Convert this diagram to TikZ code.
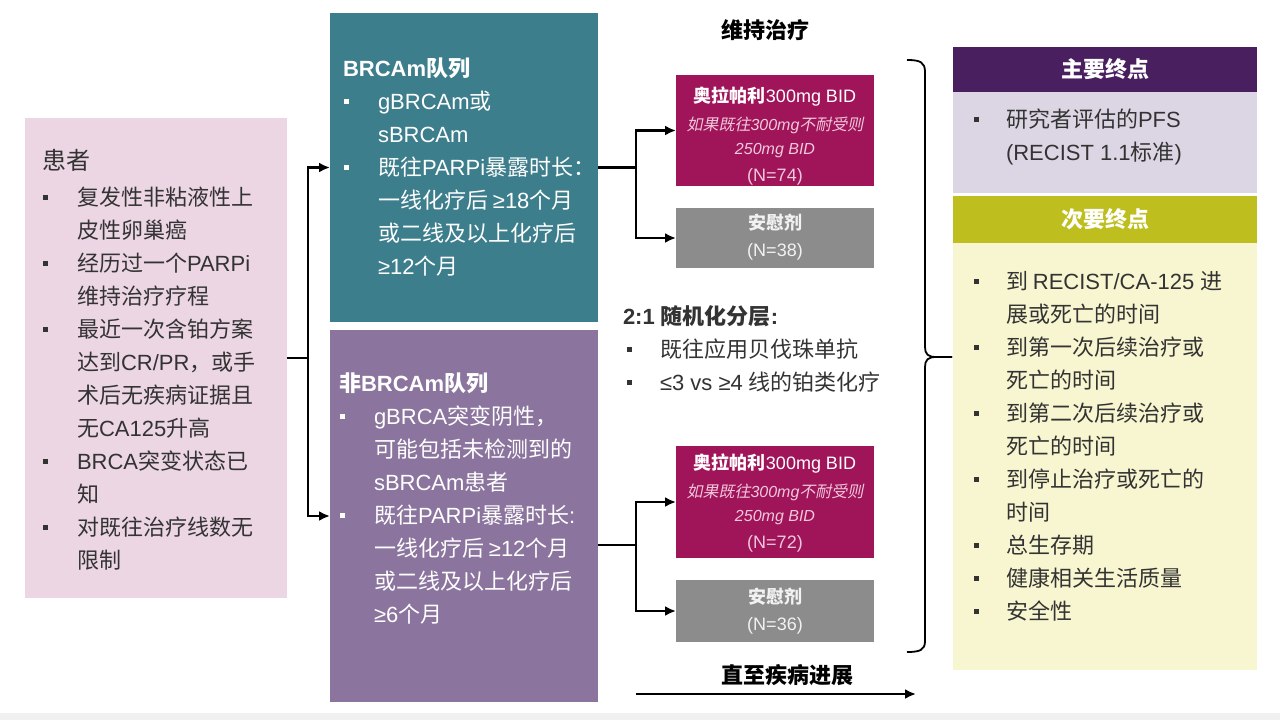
\documentclass[tikz,border=0pt]{standalone}
\usepackage{fontspec}
\setmainfont{Liberation Sans}
\newfontfamily\cjkf[NFSSFamily=cjkfam, ItalicFont={Noto Sans CJK SC}, ItalicFeatures={FakeSlant=0.2}]{Noto Sans CJK SC}
\XeTeXinterchartokenstate=1
\newXeTeXintercharclass\cjkcls
\newcount\cjkn
\cjkn="3000 \loop \XeTeXcharclass\cjkn=\cjkcls \ifnum\cjkn<"303F \advance\cjkn 1 \repeat
\cjkn="4E00 \loop \XeTeXcharclass\cjkn=\cjkcls \ifnum\cjkn<"9FFF \advance\cjkn 1 \repeat
\cjkn="FF00 \loop \XeTeXcharclass\cjkn=\cjkcls \ifnum\cjkn<"FFEF \advance\cjkn 1 \repeat
\XeTeXinterchartoks 0 \cjkcls = {\fontfamily{cjkfam}\selectfont}
\XeTeXinterchartoks 4095 \cjkcls = {\fontfamily{cjkfam}\selectfont}
\XeTeXinterchartoks \cjkcls 0 = {\fontfamily{\rmdefault}\selectfont}
\XeTeXinterchartoks 4095 0 = {\fontfamily{\rmdefault}\selectfont}
\usetikzlibrary{arrows.meta}
\definecolor{pinkbg}{HTML}{ECD6E4}
\definecolor{tealbg}{HTML}{3D7E8C}
\definecolor{purpbg}{HTML}{8B749D}
\definecolor{magbg}{HTML}{A0145A}
\definecolor{graybg}{HTML}{8C8C8C}
\definecolor{primhd}{HTML}{4A1F60}
\definecolor{lavbg}{HTML}{DCD6E4}
\definecolor{olivehd}{HTML}{BEBE1E}
\definecolor{yelbg}{HTML}{F8F6D0}
\definecolor{darktxt}{HTML}{333333}
\definecolor{pinktxt}{HTML}{F0C8DC}
\newcommand\fl{\rule{0pt}{0.9em}}
\newcommand\bu[1]{\makebox[#1][l]{\hspace{1pt}\raisebox{0.25em}{\rule{4.5pt}{4.5pt}}}}
\newcommand\ind[1]{\hspace*{#1}}
\tikzset{
  panel/.style={rectangle, inner sep=0pt, outer sep=0pt, anchor=north west},
  txt/.style={inner sep=0pt, outer sep=0pt, anchor=north west, align=left, font=\fontsize{22}{33}\selectfont},
  ctxt/.style={inner sep=0pt, outer sep=0pt, anchor=north, align=center},
  conn/.style={line width=2.2pt, black},
  arr/.style={conn, -{Latex[length=11pt,width=10pt]}},
}
\begin{document}
\begin{tikzpicture}[x=1pt,y=-1pt]
\useasboundingbox (0,0) rectangle (1280,720);
\fill[white] (0,0) rectangle (1280,720);
\fill[gray!12] (0,713) rectangle (1280,720);

% panels
\node[panel, fill=pinkbg, minimum width=262pt, minimum height=480pt] (pat) at (25,118) {};
\node[panel, fill=tealbg, minimum width=268pt, minimum height=309pt] (brca) at (330,13) {};
\node[panel, fill=purpbg, minimum width=268pt, minimum height=372pt] (non) at (330,330) {};
\node[panel, fill=magbg, minimum width=198pt, minimum height=111pt] (ola1) at (676,75) {};
\node[panel, fill=graybg, minimum width=198pt, minimum height=60pt] (pla1) at (676,208) {};
\node[panel, fill=magbg, minimum width=198pt, minimum height=112pt] (ola2) at (676,446) {};
\node[panel, fill=graybg, minimum width=198pt, minimum height=62pt] (pla2) at (676,580) {};
\node[panel, fill=primhd, minimum width=304pt, minimum height=45pt] (h1) at (953,47) {};
\node[panel, fill=lavbg, minimum width=304pt, minimum height=101pt] (b1) at (953,92) {};
\node[panel, fill=olivehd, minimum width=304pt, minimum height=47pt] (h2) at (953,196) {};
\node[panel, fill=yelbg, minimum width=304pt, minimum height=427pt] (b2) at (953,243) {};

% patient text
\node[txt, text=darktxt, font=\fontsize{24}{30}\selectfont] (patT) at (42,147.5) {\fl 患者};
\node[txt, text=darktxt] (patB) at (42,185.6) {\fl\bu{35pt}复发性非粘液性上\\
\ind{35pt}皮性卵巢癌\\
\bu{35pt}经历过一个PARPi\\
\ind{35pt}维持治疗疗程\\
\bu{35pt}最近一次含铂方案\\
\ind{35pt}达到CR/PR，或手\\
\ind{35pt}术后无疾病证据且\\
\ind{35pt}无CA125升高\\
\bu{35pt}BRCA突变状态已\\
\ind{35pt}知\\
\bu{35pt}对既往治疗线数无\\
\ind{35pt}限制};

% cohort texts
\node[txt, text=white] (brcaT) at (343,56.6) {\fl\textbf{BRCAm队列}\\
\bu{35pt}gBRCAm或\\
\ind{35pt}sBRCAm\\
\bu{35pt}既往PARPi暴露时长：\\
\ind{35pt}一线化疗后 ≥18个月\\
\ind{35pt}或二线及以上化疗后\\
\ind{35pt}≥12个月};
\node[txt, text=white] (nonT) at (339,371.6) {\fl\textbf{非BRCAm队列}\\
\bu{35pt}gBRCA突变阴性，\\
\ind{35pt}可能包括未检测到的\\
\ind{35pt}sBRCAm患者\\
\bu{35pt}既往PARPi暴露时长:\\
\ind{35pt}一线化疗后 ≥12个月\\
\ind{35pt}或二线及以上化疗后\\
\ind{35pt}≥6个月};

% middle labels
\node[inner sep=0pt, font=\fontsize{22}{26}\selectfont\bfseries] (maint) at (765,30) {维持治疗};
\node[txt, text=darktxt] (strat) at (623,304.6) {\fl\textbf{2:1 随机化分层:}\\
\ind{3pt}\bu{34pt}既往应用贝伐珠单抗\\
\ind{3pt}\bu{34pt}≤3 vs ≥4 线的铂类化疗};
\node[inner sep=0pt, font=\fontsize{22}{26}\selectfont\bfseries] (prog) at (787,675) {直至疾病进展};

% arm texts
\node[ctxt, text=white, font=\fontsize{16}{24}\selectfont] (ola1t) at (775,86.6) {{\fontsize{18}{24}\selectfont\fl\textbf{奥拉帕利}300mg BID}\\[4pt]
{\itshape\color{pinktxt}如果既往300mg不耐受则}\\
{\itshape\color{pinktxt}250mg BID}\\[3pt]
{\fontsize{18}{24}\selectfont\color{pinktxt}(N=74)}};
\node[ctxt, text=white!90!gray, font=\fontsize{18}{27}\selectfont] (pla1t) at (775,213.6) {\fl\textbf{安慰剂}\\(N=38)};
\node[ctxt, text=white, font=\fontsize{16}{24}\selectfont] (ola2t) at (775,453.6) {{\fontsize{18}{24}\selectfont\fl\textbf{奥拉帕利}300mg BID}\\[4pt]
{\itshape\color{pinktxt}如果既往300mg不耐受则}\\
{\itshape\color{pinktxt}250mg BID}\\[3pt]
{\fontsize{18}{24}\selectfont\color{pinktxt}(N=72)}};
\node[ctxt, text=white!90!gray, font=\fontsize{18}{27}\selectfont] (pla2t) at (775,587.6) {\fl\textbf{安慰剂}\\(N=36)};

% endpoints text
\node[inner sep=0pt, text=white, font=\fontsize{22}{26}\selectfont\bfseries] (h1t) at (h1.center) {主要终点};
\node[inner sep=0pt, text=white, font=\fontsize{22}{26}\selectfont\bfseries] (h2t) at (h2.center) {次要终点};
\node[txt, text=darktxt] (b1t) at (973,107.6) {\fl\bu{33pt}研究者评估的PFS\\
\ind{33pt}(RECIST 1.1标准)};
\node[txt, text=darktxt] (b2t) at (973,269.6) {\fl\bu{33pt}到 RECIST/CA-125 进\\
\ind{33pt}展或死亡的时间\\
\bu{33pt}到第一次后续治疗或\\
\ind{33pt}死亡的时间\\
\bu{33pt}到第二次后续治疗或\\
\ind{33pt}死亡的时间\\
\bu{33pt}到停止治疗或死亡的\\
\ind{33pt}时间\\
\bu{33pt}总生存期\\
\bu{33pt}健康相关生活质量\\
\bu{33pt}安全性};

% connectors
\draw[conn] (pat.east) -- ++(21,0) coordinate (j1);
\draw[arr] (j1) |- (brca.west);
\draw[arr] (j1) |- (non.west);
\draw[conn] (brca.east) -- ++(38,0) coordinate (j2);
\draw[arr] (j2) |- (ola1.west);
\draw[arr] (j2) |- (pla1.west);
\coordinate (j3) at (636,545);
\draw[conn] (j3 -| non.east) -- (j3);
\draw[arr] (j3) |- (ola2.west);
\draw[arr] (j3) |- (pla2.west);
\coordinate (p0) at (636,694);
\coordinate (p1) at (916,694);
\draw[arr] (p0) -- (p1);

% brace
\coordinate (bt) at (952,357);
\draw[line width=1.8pt] (907,60) .. controls (920,60) and (925,62) .. (925,72) -- (925,347)
  .. controls (925,354) and (928,357) .. (936,357) -- (bt);
\draw[line width=1.8pt] (bt) -- (936,357) .. controls (928,357) and (925,360) .. (925,367)
  -- (925,641) .. controls (925,650) and (920,652) .. (907,652);
\end{tikzpicture}
\end{document}
